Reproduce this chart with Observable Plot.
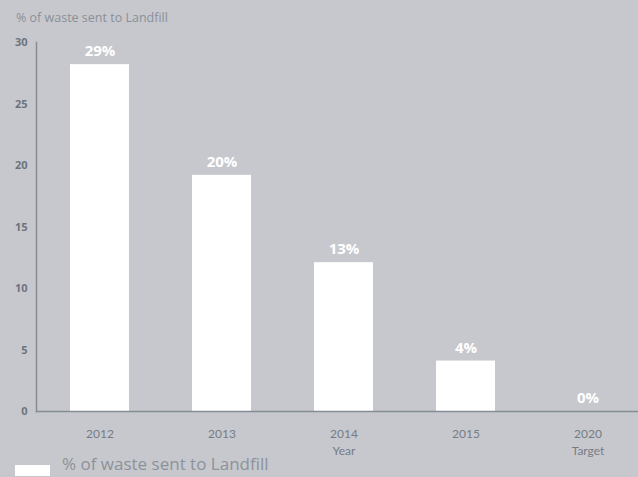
<!DOCTYPE html>
<html>
<head>
<meta charset="utf-8">
<script src="https://cdn.jsdelivr.net/npm/d3@7"></script>
<script src="https://cdn.jsdelivr.net/npm/@observablehq/plot@0.6"></script>
<style>
  html, body { margin: 0; padding: 0; background: #c7c8cd; overflow: hidden; }
  #wrap { position: relative; width: 638px; height: 477px; }
  #title { position: absolute; left: 16px; top: 9px; font: 12.5px "Open Sans", sans-serif; color: #8a9098; }
  #chart { position: absolute; left: 0; top: 0; }
  #legend-sw { position: absolute; left: 15px; top: 465px; width: 35px; height: 11px; background: #ffffff; }
  #legend-tx { position: absolute; left: 62px; top: 454px; font: 17px/20px "Open Sans", sans-serif; color: #8c929a; white-space: nowrap; }
</style>
</head>
<body>
<div id="wrap">
  <div id="chart"></div>
  <div id="title">% of waste sent to Landfill</div>
  <div id="legend-sw"></div>
  <div id="legend-tx">% of waste sent to Landfill</div>
</div>
<script>
const years = ["2012", "2013", "2014", "2015", "2020"];
const tickLabels = ["2012", "2013", "2014\nYear", "2015", "2020\nTarget"];
const values = [28.2, 19.2, 12.1, 4.1, 0];
const valueLabels = ["29%", "20%", "13%", "4%", "0%"];
const yTicks = [0, 5, 10, 15, 20, 25, 30];

const data = years.map((y, i) => ({year: y, value: values[i], label: valueLabels[i]}));

const chart = Plot.plot({
  width: 638,
  height: 477,
  marginTop: 42,
  marginBottom: 66,
  marginLeft: 36,
  marginRight: 0,
  style: {background: "transparent", overflow: "hidden"},
  x: {domain: years, range: [36, 651], paddingInner: 0.52, paddingOuter: 0.265},
  y: {domain: [0, 30]},
  marks: [
    Plot.barY(data, {x: "year", y: "value", fill: "#ffffff"}),
    Plot.text(data, {x: "year", y: "value", text: "label", dy: -13, fill: "#ffffff",
      fontSize: 15, fontWeight: "bold", fontFamily: "Open Sans, sans-serif"}),
    Plot.frame({anchor: "left", stroke: "#858c93", strokeWidth: 1.5}),
    Plot.frame({anchor: "bottom", stroke: "#858c93", strokeWidth: 1.5}),
    Plot.axisY({ticks: yTicks, tickSize: 0, tickPadding: 9, label: null,
      fontSize: 11, fontWeight: "bold", fontFamily: "Open Sans, sans-serif", color: "#6b747d"}),
    Plot.axisX({tickSize: 0, tickPadding: 15, label: null, lineHeight: 1.4,
      tickFormat: (d) => tickLabels[years.indexOf(d)],
      fontSize: 12, fontFamily: "Lato, sans-serif", color: "#757c85"})
  ]
});
document.getElementById("chart").appendChild(chart);
</script>
</body>
</html>
